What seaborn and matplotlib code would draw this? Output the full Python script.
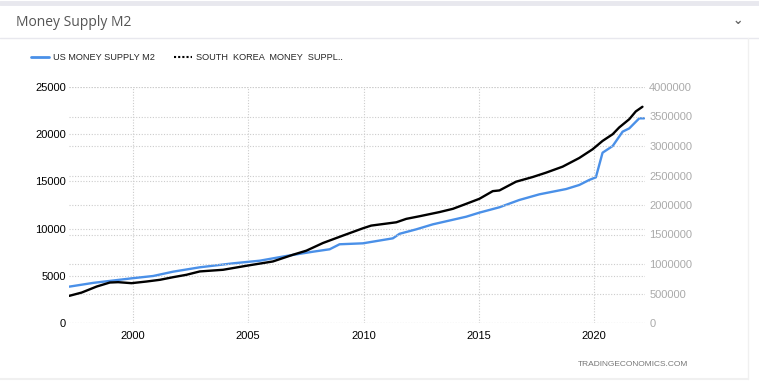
import numpy as np
import pandas as pd
import matplotlib.pyplot as plt
import seaborn as sns
from matplotlib.lines import Line2D

# Datos (anio decimal)
us_years = [1997.24, 1998.28, 1999.94, 2000.88, 2001.75, 2002.9, 2003.62, 2004.34,
            2005.5, 2006.65, 2007.8, 2008.53, 2008.96, 2009.97, 2011.27, 2011.56,
            2012.28, 2013.0, 2014.45, 2015.02, 2015.89, 2016.75, 2017.62, 2018.78,
            2019.35, 2019.78, 2020.07, 2020.36, 2020.8, 2021.23, 2021.52, 2021.95, 2022.16]
us_m2 = [3850, 4250, 4730, 4980, 5440, 5900, 6110, 6320,
         6600, 7100, 7550, 7810, 8340, 8440, 8970, 9450,
         9920, 10450, 11260, 11690, 12260, 13030, 13630, 14190,
         14620, 15150, 15430, 18040, 18750, 20270, 20620, 21680, 21680]

kr_years = [1997.24, 1997.78, 1998.43, 1999.0, 1999.36, 1999.94, 2000.59, 2001.17,
            2001.75, 2002.32, 2002.9, 2003.91, 2004.92, 2006.07, 2006.94, 2007.52,
            2008.24, 2009.1, 2009.97, 2010.33, 2011.42, 2011.85, 2012.42, 2013.29,
            2013.87, 2014.45, 2015.02, 2015.6, 2015.89, 2016.61, 2017.33, 2017.91,
            2018.63, 2019.35, 2019.93, 2020.36, 2020.8, 2021.08, 2021.52, 2021.8, 2022.09]
kr_m2 = [460000, 516000, 618000, 686000, 692000, 675000, 703000, 732000,
         777000, 817000, 874000, 902000, 970000, 1043000, 1157000, 1226000,
         1356000, 1481000, 1605000, 1651000, 1707000, 1765000, 1809000, 1880000,
         1935000, 2020000, 2105000, 2235000, 2247000, 2395000, 2474000, 2548000,
         2650000, 2797000, 2945000, 3086000, 3200000, 3314000, 3455000, 3586000, 3665000]

left_ticks = [0, 5000, 10000, 15000, 20000, 25000]
right_ticks = [0, 500000, 1000000, 1500000, 2000000, 2500000, 3000000, 3500000, 4000000]
year_ticks = [2000, 2005, 2010, 2015, 2020]

us = pd.DataFrame({"year": us_years, "value": us_m2})
kr = pd.DataFrame({"year": kr_years, "value": kr_m2})

sns.set_style("white")
plt.rcParams["font.family"] = ["Liberation Sans", "DejaVu Sans"]

W, H = 759, 381
fig = plt.figure(figsize=(W / 100, H / 100), dpi=100)
ax = fig.add_axes([69 / W, 1 - 323 / H, (645 - 69) / W, (323 - 87) / H])
ax2 = ax.twinx()

grid = dict(color="#cccccc", linestyle=(0, (1, 1.5)), linewidth=0.8)
for a in (ax, ax2):
    for s in a.spines.values():
        s.set_visible(False)
    a.set_axisbelow(True)

ax.grid(True, axis="both", **grid)
ax2.grid(True, axis="y", **grid)

sns.lineplot(data=us, x="year", y="value", ax=ax, color="#4a90e8", linewidth=1.7, zorder=3)
sns.lineplot(data=kr, x="year", y="value", ax=ax2, color="black", linewidth=1.7, zorder=4)

ax.set_xlim(1997.23, 2022.2)
ax.set_ylim(0, 25000)
ax2.set_ylim(0, 4000000)
ax.set_xticks(year_ticks)
ax.set_yticks(left_ticks)
ax2.set_yticks(right_ticks)
ax.set_xlabel("")
ax.set_ylabel("")
ax2.set_ylabel("")
ax.tick_params(axis="y", length=0, pad=2, labelsize=8, labelcolor="black")
ax.tick_params(axis="x", length=0, pad=6, labelsize=8, labelcolor="black")
ax2.tick_params(axis="y", length=0, pad=3, labelsize=8, labelcolor="#aaaaaa")
ax2.yaxis.set_major_formatter(plt.FuncFormatter(lambda v, p: f"{int(v)}"))
ax.yaxis.set_major_formatter(plt.FuncFormatter(lambda v, p: f"{int(v)}"))

# marco de la tarjeta
fig.add_artist(Line2D([0, 1], [1 - 2.5 / H, 1 - 2.5 / H], color="#e8e8ee", linewidth=3.5))
fig.add_artist(Line2D([0, 1], [1 - 37.5 / H, 1 - 37.5 / H], color="#e8e8ee", linewidth=1))
fig.add_artist(Line2D([748 / W, 748 / W], [1 - 379 / H, 1 - 38 / H], color="#f0f0f0", linewidth=1))
fig.add_artist(Line2D([0, 748 / W], [1 - 379 / H, 1 - 379 / H], color="#f0f0f0", linewidth=1.5))
fig.text(16 / W, 1 - 23 / H, "Money Supply M2", fontsize=10, color="#555555",
         family=["Open Sans", "DejaVu Sans"], va="center")
fig.text(738 / W, 1 - 21 / H, "\u2304", fontsize=9, color="#666666", ha="center", va="center",
         family=["DejaVu Sans"], fontweight="bold")

handles = [Line2D([], [], color="#4a90e8", linewidth=2),
           Line2D([], [], color="black", linewidth=1.5, linestyle=(0, (1, 1)))]
fig.legend(handles, ["US MONEY SUPPLY M2", "SOUTH  KOREA  MONEY  SUPPL.."],
           loc="center left", bbox_to_anchor=(31 / W, 1 - 58 / H), ncol=2, frameon=False,
           fontsize=6.6, handlelength=2.0, handletextpad=0.45, columnspacing=2.0,
           borderaxespad=0, borderpad=0)

fig.text(688 / W, 1 - 364 / H, "TRADINGECONOMICS.COM", fontsize=6, color="#777777",
         ha="right", va="center")

fig.savefig("out.png", dpi=100, facecolor="white")
